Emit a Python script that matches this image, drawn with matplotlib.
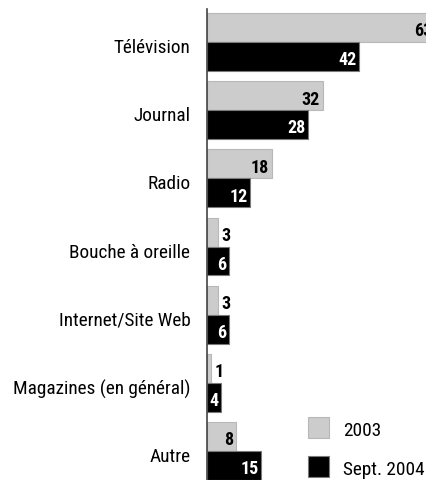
import matplotlib
matplotlib.use("Agg")
import matplotlib.pyplot as plt
from matplotlib.patches import Rectangle
from matplotlib import font_manager
from matplotlib.transforms import ScaledTranslation

categories = ["Télévision", "Journal", "Radio", "Bouche à oreille",
              "Internet/Site Web", "Magazines (en général)", "Autre"]
series_names = ["2003", "Sept. 2004"]
values_2003 = [63, 32, 18, 3, 3, 1, 8]
values_2004 = [42, 28, 12, 6, 6, 4, 15]

names = {f.name for f in font_manager.fontManager.ttflist}
family = "DejaVu Sans"
stretch = "condensed"
for cand in ["Liberation Sans Narrow", "Roboto Condensed", "Archivo Narrow",
             "PT Sans Narrow", "Fira Sans Condensed"]:
    if cand in names:
        family, stretch = cand, "normal"
        break

W, H = 427, 481
fig = plt.figure(figsize=(W / 100, H / 100), dpi=100)
renderer = fig.canvas.get_renderer()


def fit_size(text, target_px, weight="normal"):
    t = fig.text(0, 0, text, fontsize=10, family=family, fontstretch=stretch, fontweight=weight)
    w = t.get_window_extent(renderer).width
    t.remove()
    return 10 * target_px / w


lab_size = fit_size("Magazines (en général)", 177)
num_size = fit_size("42", 18.3, "bold")

ax = fig.add_axes([207 / W, 0, (W - 207) / W, 471 / H])

gray = "#cccccc"
bh = 0.425
ys = list(range(len(categories)))
y1 = [y - bh / 2 for y in ys]
y2 = [y + bh / 2 for y in ys]

ax.barh(y1, values_2003, height=bh, color=gray, edgecolor="#b8b8b8", linewidth=0.8)
ax.barh(y2, values_2004, height=bh, color="black", edgecolor="#7a7a7a", linewidth=0.8)

nkw = dict(fontsize=num_size, fontweight="bold", family=family, fontstretch=stretch,
           va="center_baseline", annotation_clip=False)
for y, v in zip(y1, values_2003):
    if v <= 3:
        ax.annotate(str(v), (v, y), xytext=(2.5, -0.6), textcoords="offset points",
                    ha="left", color="black", **nkw)
    else:
        ax.annotate(str(v), (v, y), xytext=(-2.2, -0.6), textcoords="offset points",
                    ha="right", color="black", **nkw)
for y, v in zip(y2, values_2004):
    ax.annotate(str(v), (v, y), xytext=(-1.8, -0.6), textcoords="offset points",
                ha="right", color="white", **nkw)

ax.set_xlim(0, (W - 207) / 3.62)
ax.set_ylim(6 + bh, -0.484)
ax.set_yticks(ys)
ax.set_yticklabels(categories, fontsize=lab_size, family=family, fontstretch=stretch)
ax.tick_params(axis="y", length=0, pad=12)
shift = ScaledTranslation(0, -3 / 100, fig.dpi_scale_trans)
for lbl in ax.get_yticklabels():
    lbl.set_va("center_baseline")
    lbl.set_transform(lbl.get_transform() + shift)
ax.set_xticks([])
for s in ["top", "right", "bottom"]:
    ax.spines[s].set_visible(False)
ax.spines["left"].set_color("#444444")
ax.spines["left"].set_linewidth(1.2)

# legend
for i, (name, col, ec) in enumerate(zip(series_names, [gray, "black"], ["#b8b8b8", "#7a7a7a"])):
    top = 418 + i * 39
    fig.patches.append(Rectangle((308 / W, 1 - (top + 21) / H), 21 / W, 21 / H,
                                 transform=fig.transFigure, facecolor=col, edgecolor=ec, lw=0.8))
    fig.text(343 / W, 1 - (top + 11) / H, name, fontsize=lab_size, family=family,
             fontstretch=stretch, va="center_baseline", ha="left")

fig.savefig("out.png", dpi=100)
